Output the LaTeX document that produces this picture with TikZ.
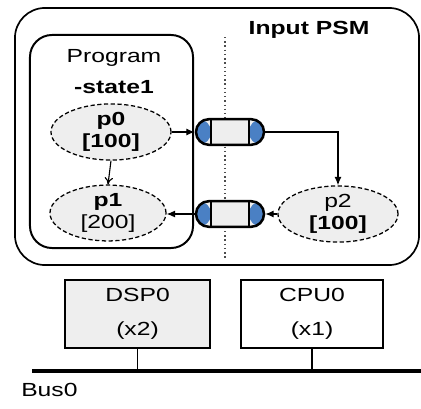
\documentclass[tikz,border=0pt]{standalone}
\usepackage{fontspec}
\setmainfont{Liberation Sans}[FakeStretch=1.3]
\usetikzlibrary{shapes.geometric,arrows.meta,positioning}
\definecolor{capblue}{RGB}{74,128,196}
\definecolor{lightfill}{RGB}{238,238,238}
\tikzset{
  psmbox/.style={draw, line width=1.2pt, rounded corners=0.75cm},
  progbox/.style={draw, line width=1.4pt, rounded corners=0.55cm},
  pstate/.style={ellipse, draw, dash pattern=on 3pt off 1.8pt, line width=0.9pt, fill=lightfill,
    minimum width=3cm, minimum height=1.32cm, inner sep=0pt, align=center},
  chan/.style={draw, line width=1.8pt, fill=lightfill, rounded corners=0.32cm,
    minimum width=1.7cm, minimum height=0.64cm, inner sep=0pt,
    path picture={
      \fill[capblue] (path picture bounding box.south west) rectangle ([xshift=0.38cm]path picture bounding box.north west);
      \fill[capblue] (path picture bounding box.south east) rectangle ([xshift=-0.38cm]path picture bounding box.north east);
      \draw[line width=1.8pt] ([xshift=0.38cm]path picture bounding box.south west) -- ([xshift=0.38cm]path picture bounding box.north west);
      \draw[line width=1.8pt] ([xshift=-0.38cm]path picture bounding box.south east) -- ([xshift=-0.38cm]path picture bounding box.north east);
    }},
  pebox/.style={draw, minimum width=3.6cm, minimum height=1.7cm, inner sep=0pt, align=center},
  flow/.style={line width=0.8pt, -{Latex[length=6pt,width=5pt]}},
}
\begin{document}
\begin{tikzpicture}[x=0.025cm, y=-0.025cm, font=\fontsize{13.5}{16}\selectfont]
    \useasboundingbox (0,0) rectangle (421,408);
    %Input PSM
    \node[psmbox, minimum width=10.1cm, minimum height=6.425cm] (psm) at (217,136.5) {};
    \node[font=\fontsize{13.5}{16}\selectfont\bfseries] (psmlabel) at (309,30) {Input PSM};
    \coordinate (divtop) at (225,37);
    \coordinate (divbot) at (225,258);
    \draw[dotted, line width=1pt, black!70] (divtop) -- (divbot);
    %Program-state1
    \node[progbox, minimum width=4.075cm, minimum height=5.325cm] (prog) at (111.5,141.5) {};
    \node[align=center, inner sep=0pt] (proglabel) at (114,72) {Program\\[6pt]\textbf{-state1}};
    \node[pstate] (p0) at (111,132) {\textbf{p0}\\\textbf{[100]}};
    \node[pstate, minimum width=2.9cm] (p1) at (108,213) {\textbf{p1}\\{[200]}};
    \node[pstate, minimum width=3cm, minimum height=1.25cm] (p2) at (338,214) {p2\\\textbf{[100]}};
    \draw[line width=0.8pt, -{To[length=5pt,width=6pt]}] (p0.south) -- (p1.north);
    %Channels
    \node[chan] (ch1) at (230,132) {};
    \node[chan] (ch2) at (230,214) {};
    \draw[flow] (p0.east) -- (ch1.west);
    \draw[flow] (ch1.east) -| (p2.north);
    \draw[flow] (p2.west) -- (ch2.east);
    \draw[flow] (ch2.west) -- (ch2.west -| p1.east);
    %Processing elements
    \node[pebox, line width=2pt, fill=lightfill, minimum width=3.625cm] (dsp) at (137.5,314) {DSP0\\[8pt](x2)};
    \node[pebox, line width=1.2pt, fill=white, minimum width=3.55cm] (cpu) at (312,314) {CPU0\\[8pt](x1)};
    %Bus
    \coordinate (busL) at (32,371);
    \coordinate (busR) at (421,371);
    \draw[line width=2.8pt] (busL) -- (busR);
    \draw[line width=0.9pt] (dsp.south) -- (dsp.south |- busL);
    \draw[line width=0.9pt] (cpu.south) -- (cpu.south |- busL);
    \node[anchor=west, inner sep=0pt] (buslabel) at (21,390) {Bus0};
\end{tikzpicture}
\end{document}
